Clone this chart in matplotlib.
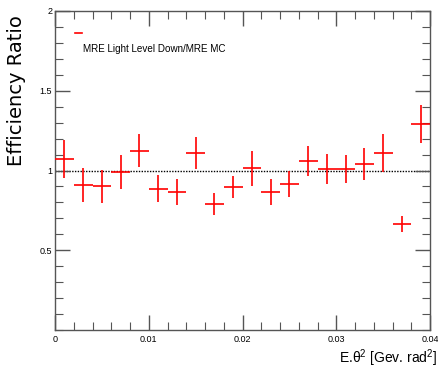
import matplotlib
matplotlib.use("Agg")
import matplotlib.pyplot as plt
from matplotlib.ticker import MultipleLocator, FixedLocator
import numpy as np

x_centers = [0.001, 0.003, 0.005, 0.007, 0.009, 0.011, 0.013, 0.015, 0.017, 0.019,
             0.021, 0.023, 0.025, 0.027, 0.029, 0.031, 0.033, 0.035, 0.037, 0.039]
ratio = [1.07, 0.91, 0.90, 0.99, 1.125, 0.885, 0.865, 1.11, 0.79, 0.895,
         1.015, 0.865, 0.915, 1.06, 1.01, 1.01, 1.04, 1.11, 0.665, 1.29]
ratio_err = [0.12, 0.105, 0.105, 0.105, 0.105, 0.085, 0.08, 0.10, 0.07, 0.07,
             0.11, 0.08, 0.08, 0.095, 0.095, 0.09, 0.10, 0.12, 0.05, 0.12]
bin_half_width = 0.001
legend_label = "MRE Light Level Down/MRE MC"
x_title = r"E.θ$^{2}$ [Gev. rad$^{2}$]"
y_title = "Efficiency Ratio"

plt.rcParams['font.family'] = ['Liberation Sans', 'DejaVu Sans']
plt.rcParams['mathtext.fontset'] = 'custom'
plt.rcParams['mathtext.rm'] = 'Liberation Sans'
plt.rcParams['mathtext.it'] = 'Liberation Sans'

fig = plt.figure(figsize=(4.38, 3.72), dpi=100)
ax = fig.add_axes([55/438, 1 - 330/372, 375/438, 319/372])

ax.axhline(1.0, color='black', linestyle=(0, (1, 1)), linewidth=1.0, zorder=1)
ax.errorbar(x_centers, ratio, xerr=bin_half_width, yerr=ratio_err, fmt='none',
            ecolor='red', elinewidth=1.2, capsize=0, zorder=3, label=legend_label)

ax.set_xlim(0, 0.04)
ax.set_ylim(0, 2)

ax.xaxis.set_major_locator(FixedLocator([0, 0.01, 0.02, 0.03, 0.04]))
ax.xaxis.set_minor_locator(MultipleLocator(0.002))
ax.yaxis.set_major_locator(FixedLocator([0.5, 1, 1.5, 2]))
ax.yaxis.set_minor_locator(MultipleLocator(0.1))
ax.set_xticklabels(['0', '0.01', '0.02', '0.03', '0.04'])
ax.set_yticklabels(['0.5', '1', '1.5', '2'])

ax.tick_params(which='both', direction='in', top=True, right=True, colors='#555555',
               labelcolor='black', labelsize=6.5)
ax.tick_params(which='major', length=11, width=1)
ax.tick_params(which='minor', length=6, width=0.8)
ax.tick_params(axis='y', which='major', pad=2)
for s in ax.spines.values():
    s.set_color('#555555')
    s.set_linewidth(1.0)

ax.set_ylabel(y_title, fontsize=14, family=['DejaVu Sans'])
ax.yaxis.set_label_coords(-0.076, 0.75)

fig.text(437/438, 1 - 358/372, x_title, fontsize=10, ha='right', va='center')

# legend
ax.plot([0.0021, 0.0029], [1.862, 1.862], color='red', linewidth=1.2)
ax.text(0.0030, 1.76, legend_label, fontsize=7.1, va='center', ha='left')

fig.savefig('out.png', dpi=100)
